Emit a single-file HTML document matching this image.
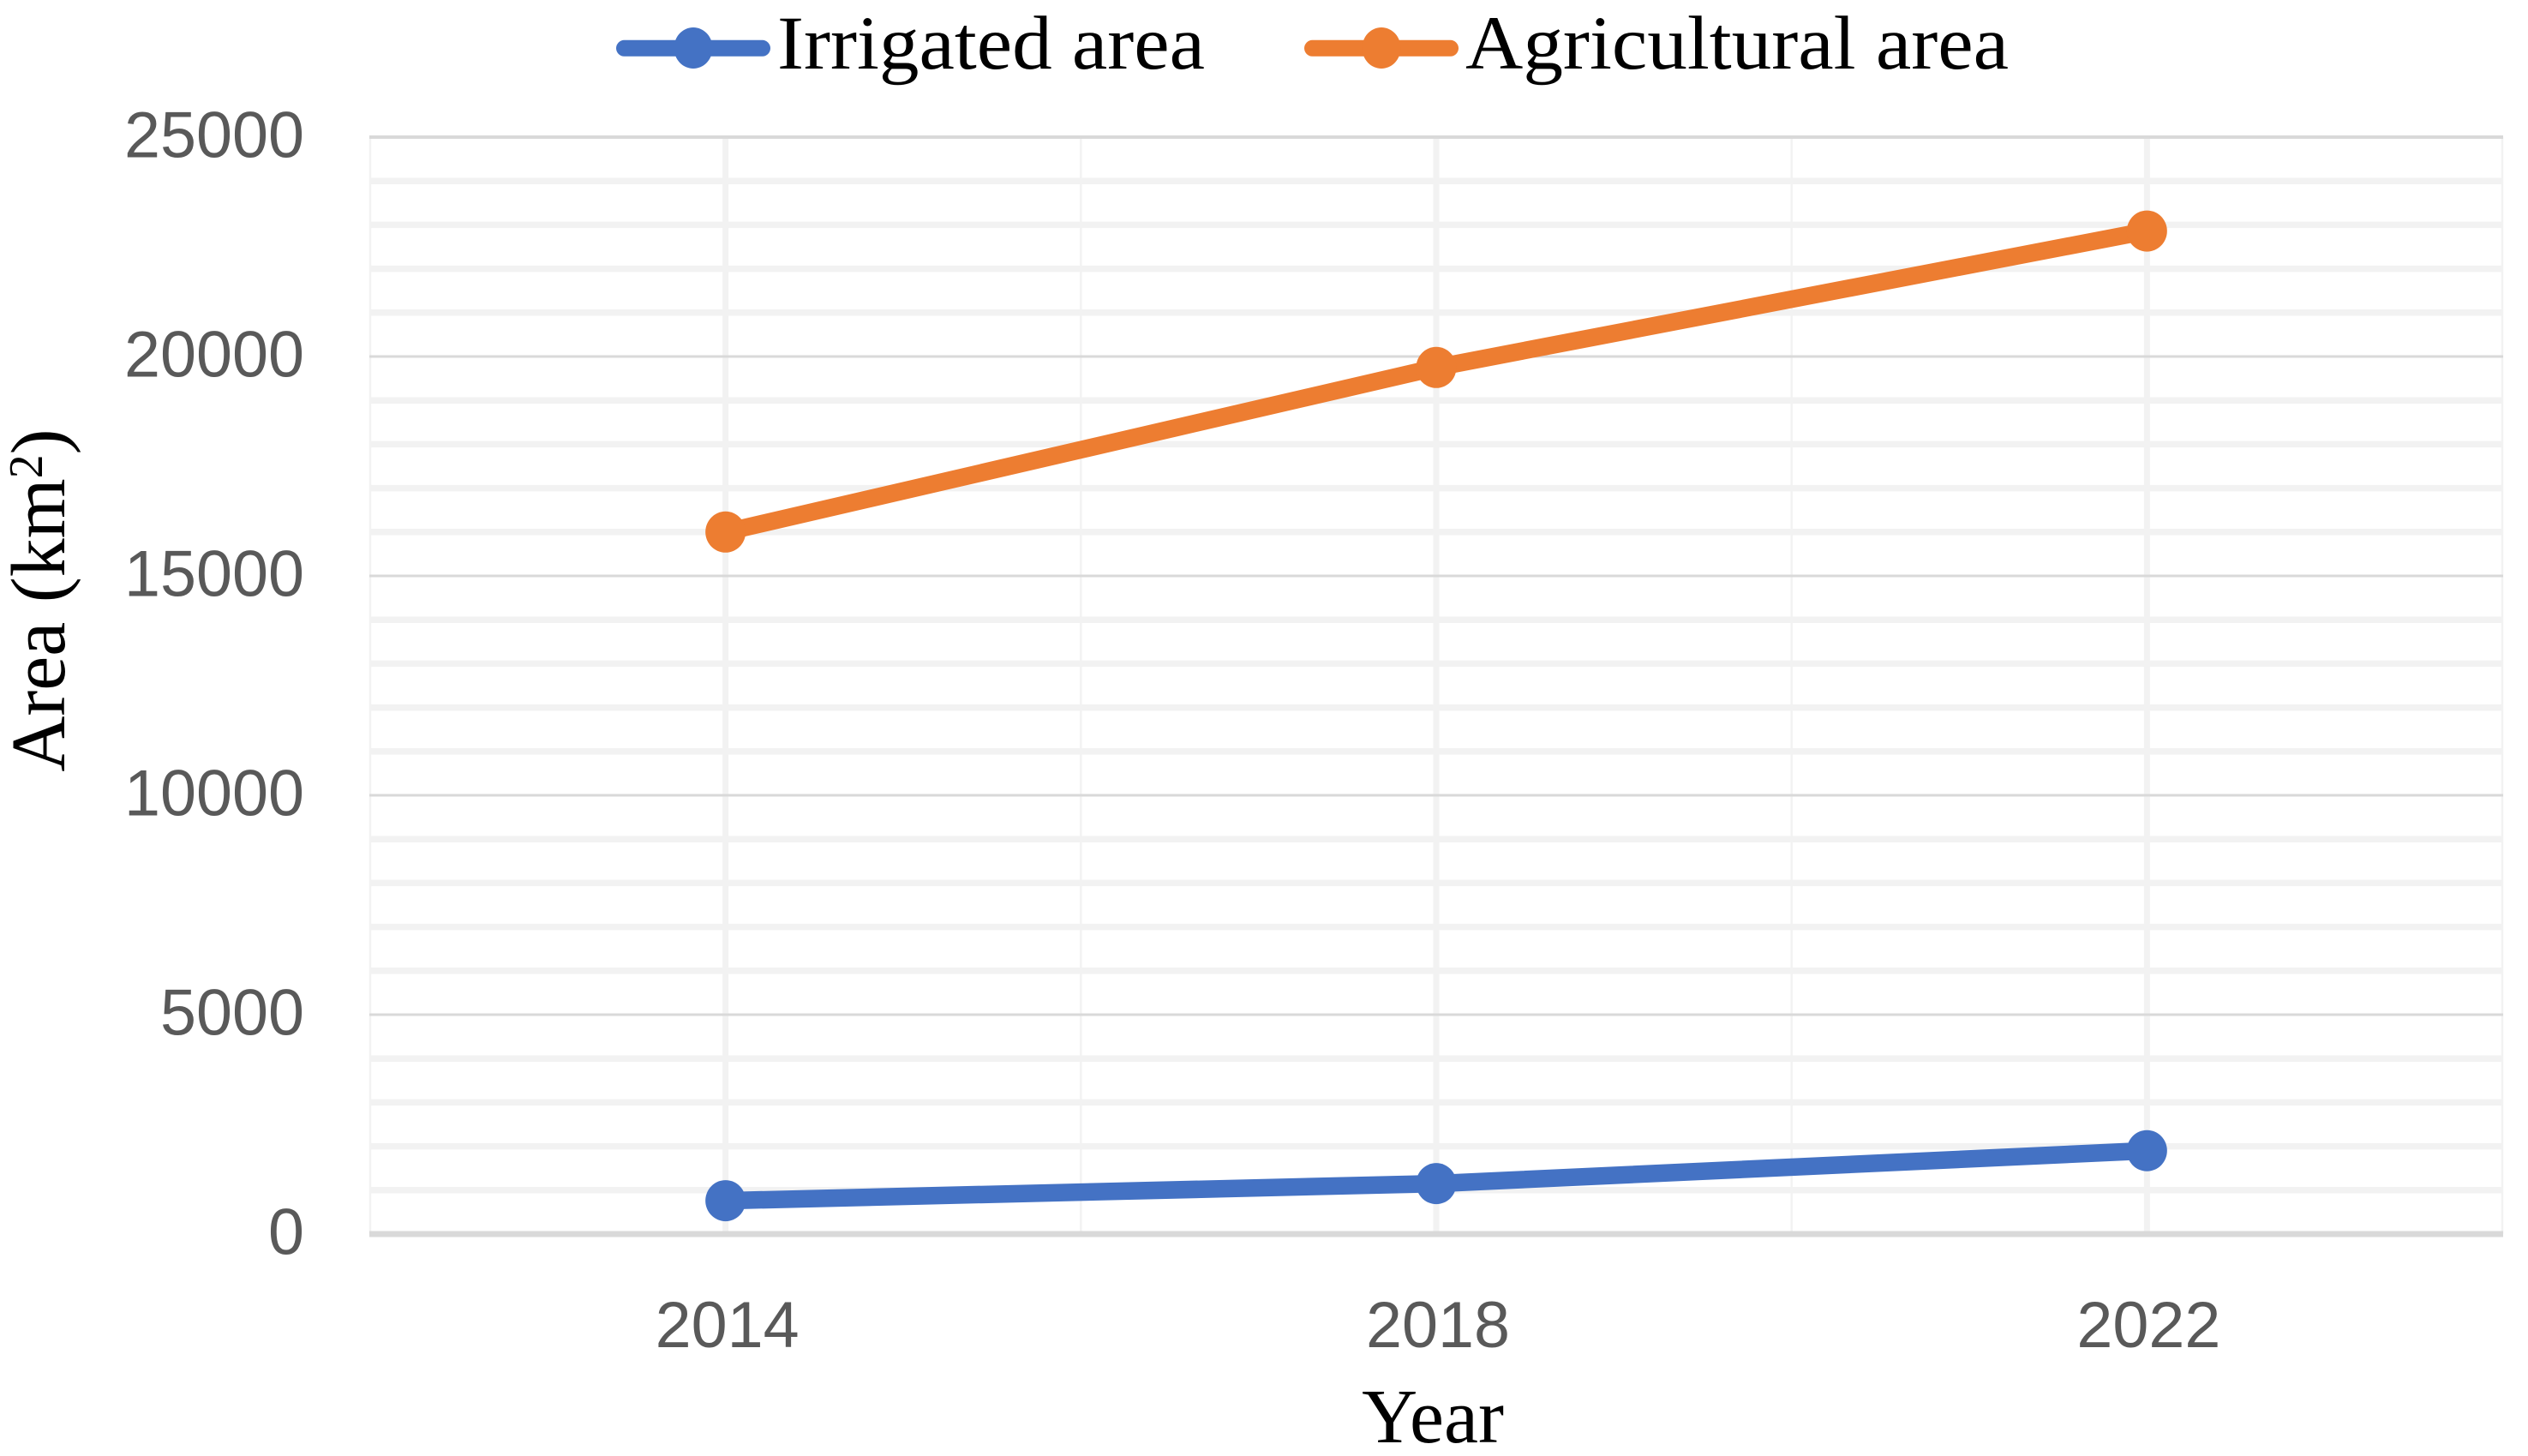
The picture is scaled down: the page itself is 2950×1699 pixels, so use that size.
<!DOCTYPE html>
<html lang="en">
<head>
<meta charset="utf-8">
<title>Irrigated and agricultural area</title>
<style>
  html, body { margin: 0; padding: 0; background: #ffffff; }
  body { width: 2950px; height: 1699px; overflow: hidden; }
  svg { display: block; }
  .tick { font-family: "Liberation Sans", sans-serif; font-size: 76px; fill: #595959; }
  .serif { font-family: "Liberation Serif", serif; font-size: 89px; fill: #000000; }
  .axis-title { font-size: 90px; }
</style>
</head>
<body>
<svg id="chart" xmlns="http://www.w3.org/2000/svg" width="2950" height="1699" viewBox="0 0 2950 1699">
  <g id="grid"></g>
  <g id="axis-labels"></g>
  <text class="serif axis-title" x="1672" y="1683" text-anchor="middle">Year</text>
  <text class="serif axis-title" transform="translate(75 700.5) rotate(-90)" text-anchor="middle">Area (km<tspan font-size="56" dy="-26">2</tspan><tspan dy="26">)</tspan></text>
  <g id="series"></g>
  <g>
    <g>
      <line x1="728.5" y1="56.3" x2="889.5" y2="56.3" stroke="#4472c4" stroke-width="19" stroke-linecap="round"></line>
      <ellipse cx="809" cy="56" rx="22.5" ry="24" fill="#4472c4"></ellipse>
      <text class="serif" x="907" y="80" textLength="499" lengthAdjust="spacingAndGlyphs">Irrigated area</text>
    </g>
    <g>
      <line x1="1531.5" y1="56.3" x2="1692.5" y2="56.3" stroke="#ed7d31" stroke-width="19" stroke-linecap="round"></line>
      <ellipse cx="1612" cy="56" rx="22.5" ry="24" fill="#ed7d31"></ellipse>
      <text class="serif" x="1710" y="80" textLength="634" lengthAdjust="spacingAndGlyphs">Agricultural area</text>
    </g>
  </g>
</svg>
<script>
const categories = ["2014", "2018", "2022"];
const irrigatedArea = [760, 1150, 1900];
const agriculturalArea = [16000, 19750, 22860];
const yTicks = [0, 5000, 10000, 15000, 20000, 25000];
const yMinorTicks = [1000, 2000, 3000, 4000, 6000, 7000, 8000, 9000, 11000, 12000, 13000, 14000, 16000, 17000, 18000, 19000, 21000, 22000, 23000, 24000];

const SVG_NS = "http://www.w3.org/2000/svg";
const plot = { left: 432, right: 2920, top: 160, bottom: 1440 };
const yMax = 25000;
const digitWidth = 42;

function yScale(v) {
  return plot.bottom - (v / yMax) * (plot.bottom - plot.top);
}
function bandWidth() {
  return (plot.right - plot.left) / categories.length;
}
function xScale(i) {
  return plot.left + bandWidth() * (i + 0.5);
}
function make(tag, attrs, parent) {
  const el = document.createElementNS(SVG_NS, tag);
  Object.keys(attrs).forEach(function (k) { el.setAttribute(k, attrs[k]); });
  parent.appendChild(el);
  return el;
}

const gridGroup = document.getElementById("grid");
const labelGroup = document.getElementById("axis-labels");
const seriesGroup = document.getElementById("series");

yMinorTicks.forEach(function (v) {
  const y = yScale(v);
  const el = make("line", { x1: plot.left, x2: plot.right, y1: y, y2: y, stroke: "#f2f2f2", "stroke-width": 7.5 }, gridGroup);
  
  
});

for (let i = 0; i <= categories.length; i++) {
  const x = plot.left + bandWidth() * i;
  const el = make("line", { x1: x, x2: x, y1: plot.top, y2: plot.bottom, stroke: "#f2f2f2", "stroke-width": 2.5 }, gridGroup);
  
  
}

categories.forEach(function (c, i) {
  const x = xScale(i);
  const el = make("line", { x1: x, x2: x, y1: plot.top, y2: plot.bottom, stroke: "#f2f2f2", "stroke-width": 7 }, gridGroup);
  
  
  const label = make("text", { x: x + 2, y: 1572, "text-anchor": "middle", class: "tick", textLength: c.length * digitWidth, lengthAdjust: "spacingAndGlyphs" }, labelGroup);
  label.textContent = c;
  
  
});

yTicks.forEach(function (v) {
  const y = yScale(v);
  const isBase = v === 0;
  const isTop = v === yMax;
  const el = make("line", { x1: plot.left - 1, x2: plot.right + 1, y1: y, y2: y, stroke: "#d9d9d9", "stroke-width": isBase ? 7 : (isTop ? 4 : 3) }, gridGroup);
  
  
  const text = String(v);
  const label = make("text", { x: 355, y: y + 23.5, "text-anchor": "end", class: "tick", textLength: text.length * digitWidth, lengthAdjust: "spacingAndGlyphs" }, labelGroup);
  label.textContent = text;
  
  
});

function drawSeries(values, color, name) {
  const points = values.map(function (v, i) { return xScale(i) + "," + yScale(v); }).join(" ");
  const line = make("polyline", { points: points, fill: "none", stroke: color, "stroke-width": 20.5, "stroke-linejoin": "round" }, seriesGroup);
  
  
  values.forEach(function (v, i) {
    const dot = make("ellipse", { cx: xScale(i), cy: yScale(v), rx: 23.5, ry: 24, fill: color }, seriesGroup);
    
    
  });
}

drawSeries(irrigatedArea, "#4472c4", "irrigated-area");
drawSeries(agriculturalArea, "#ed7d31", "agricultural-area");
</script>
</body>
</html>
